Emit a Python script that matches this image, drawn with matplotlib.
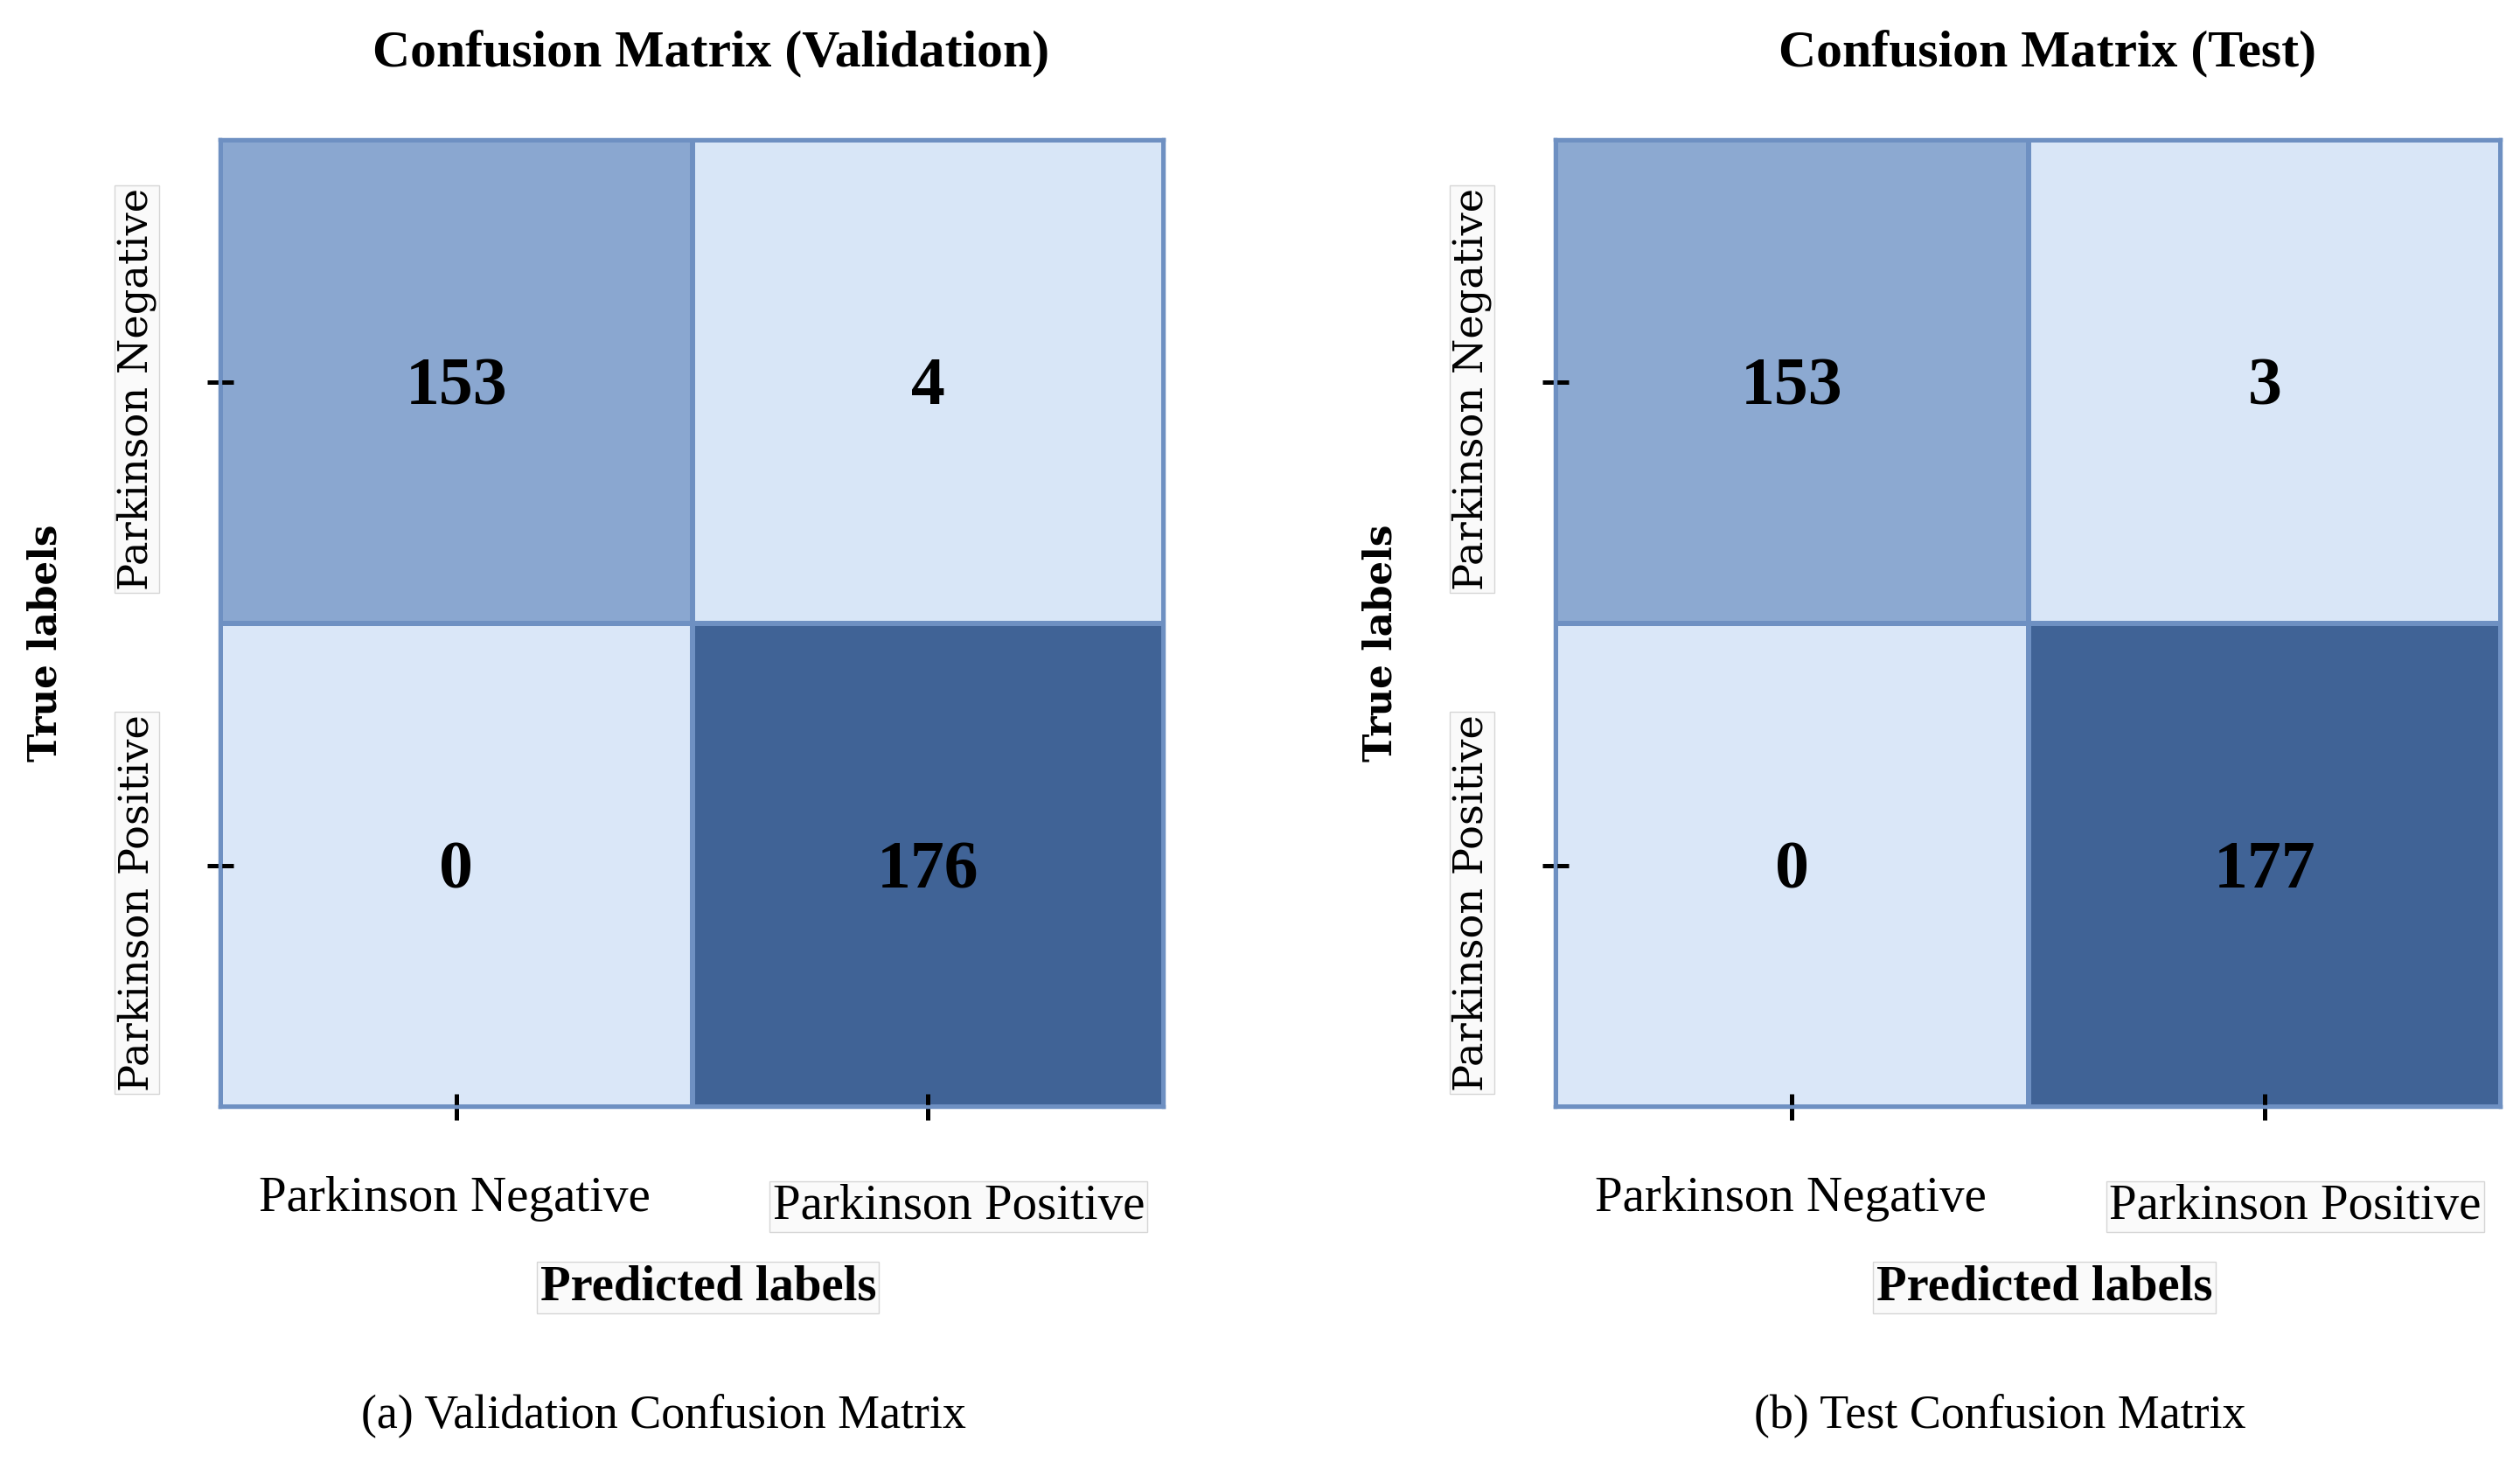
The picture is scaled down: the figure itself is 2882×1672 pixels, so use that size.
import numpy as np
import matplotlib
matplotlib.use("Agg")
import matplotlib.pyplot as plt
from matplotlib.colors import LinearSegmentedColormap

class_names = ["Parkinson Negative", "Parkinson Positive"]
cm_validation = [[153, 4], [0, 176]]
cm_test = [[153, 3], [0, 177]]
panel_titles = ["Confusion Matrix (Validation)", "Confusion Matrix (Test)"]
captions = ["(a) Validation Confusion Matrix", "(b) Test Confusion Matrix"]

LIGHT = "#DAE7F8"
MEDIUM = "#8DAAD2"
DARK = "#406396"
GRID = "#6E90C2"

cmap = LinearSegmentedColormap.from_list(
    "cm_blues", [(0.0, LIGHT), (0.865, MEDIUM), (1.0, DARK)])

W, H, DPI = 2882, 1672, 200
fig = plt.figure(figsize=(W / DPI, H / DPI), dpi=DPI)
fig.patch.set_facecolor("white")

serif = ["Liberation Serif", "DejaVu Serif"]
wide_serif = ["DejaVu Serif"]

axes_pos = [
    [252 / W, 1 - 1266 / H, 1079 / W, 1106 / H],
    [1779 / W, 1 - 1266 / H, 1081 / W, 1106 / H],
]
box_faint = dict(boxstyle="square,pad=0.06", facecolor="#fafafa",
                 edgecolor="#d6d6d6", linewidth=0.5)

for k, (mat, title, cap) in enumerate(zip([cm_validation, cm_test],
                                          panel_titles, captions)):
    data = np.array(mat, dtype=float)
    ax = fig.add_axes(axes_pos[k])
    n = len(class_names)
    ax.pcolormesh(np.arange(n + 1), np.arange(n + 1), data, cmap=cmap,
                  vmin=0, vmax=data.max(), edgecolors=GRID, linewidth=1.6)
    ax.set_xlim(0, n)
    ax.set_ylim(n, 0)
    for s in ax.spines.values():
        s.set_edgecolor(GRID)
        s.set_linewidth(1.6)

    for i in range(n):
        for j in range(n):
            ax.text(j + 0.5, i + 0.513, f"{int(data[i, j])}", ha="center",
                    va="center", fontsize=28, fontweight="bold",
                    family=serif, color="black")

    ax.set_xticks(np.arange(n) + 0.5)
    ax.set_yticks(np.arange(n) + 0.5)
    ax.set_xticklabels([])
    ax.set_yticklabels([])
    ax.tick_params(direction="inout", length=11, width=1.8, color="black")

    # x tick labels (positions)
    xt = ax.get_xaxis_transform()
    ax.text(0.497, -0.095, class_names[0], transform=xt, ha="center",
            va="center", fontsize=20.5, family=serif)
    ax.text(1.565, -0.103, class_names[1], transform=xt, ha="center",
            va="center", fontsize=20.5, family=serif, bbox=box_faint)

    # y tick labels
    yt = ax.get_yaxis_transform()
    ax.text(-0.0886, 0.515, class_names[0], transform=yt, ha="center",
            va="center", rotation=90, fontsize=16.7, family=wide_serif,
            bbox=box_faint)
    ax.text(-0.0886, 1.578, class_names[1], transform=yt, ha="center",
            va="center", rotation=90, fontsize=16.7, family=wide_serif,
            bbox=box_faint)

    ax.text(0.52, 1.089, title, transform=ax.transAxes, ha="center",
            va="center", fontsize=21.5, fontweight="bold", family=serif)
    ax.text(0.517, -0.187, "Predicted labels", transform=ax.transAxes,
            ha="center", va="center", fontsize=20.4, fontweight="bold",
            family=serif, bbox=box_faint)
    ax.text(-0.185, 0.48, "True labels", transform=ax.transAxes,
            ha="center", va="center", rotation=90, fontsize=15.7,
            fontweight="bold", family=wide_serif)
    ax.text(0.47, -0.319, cap, transform=ax.transAxes, ha="center",
            va="center", fontsize=19.4, family=serif)

fig.savefig("out.png", dpi=DPI, facecolor="white")
